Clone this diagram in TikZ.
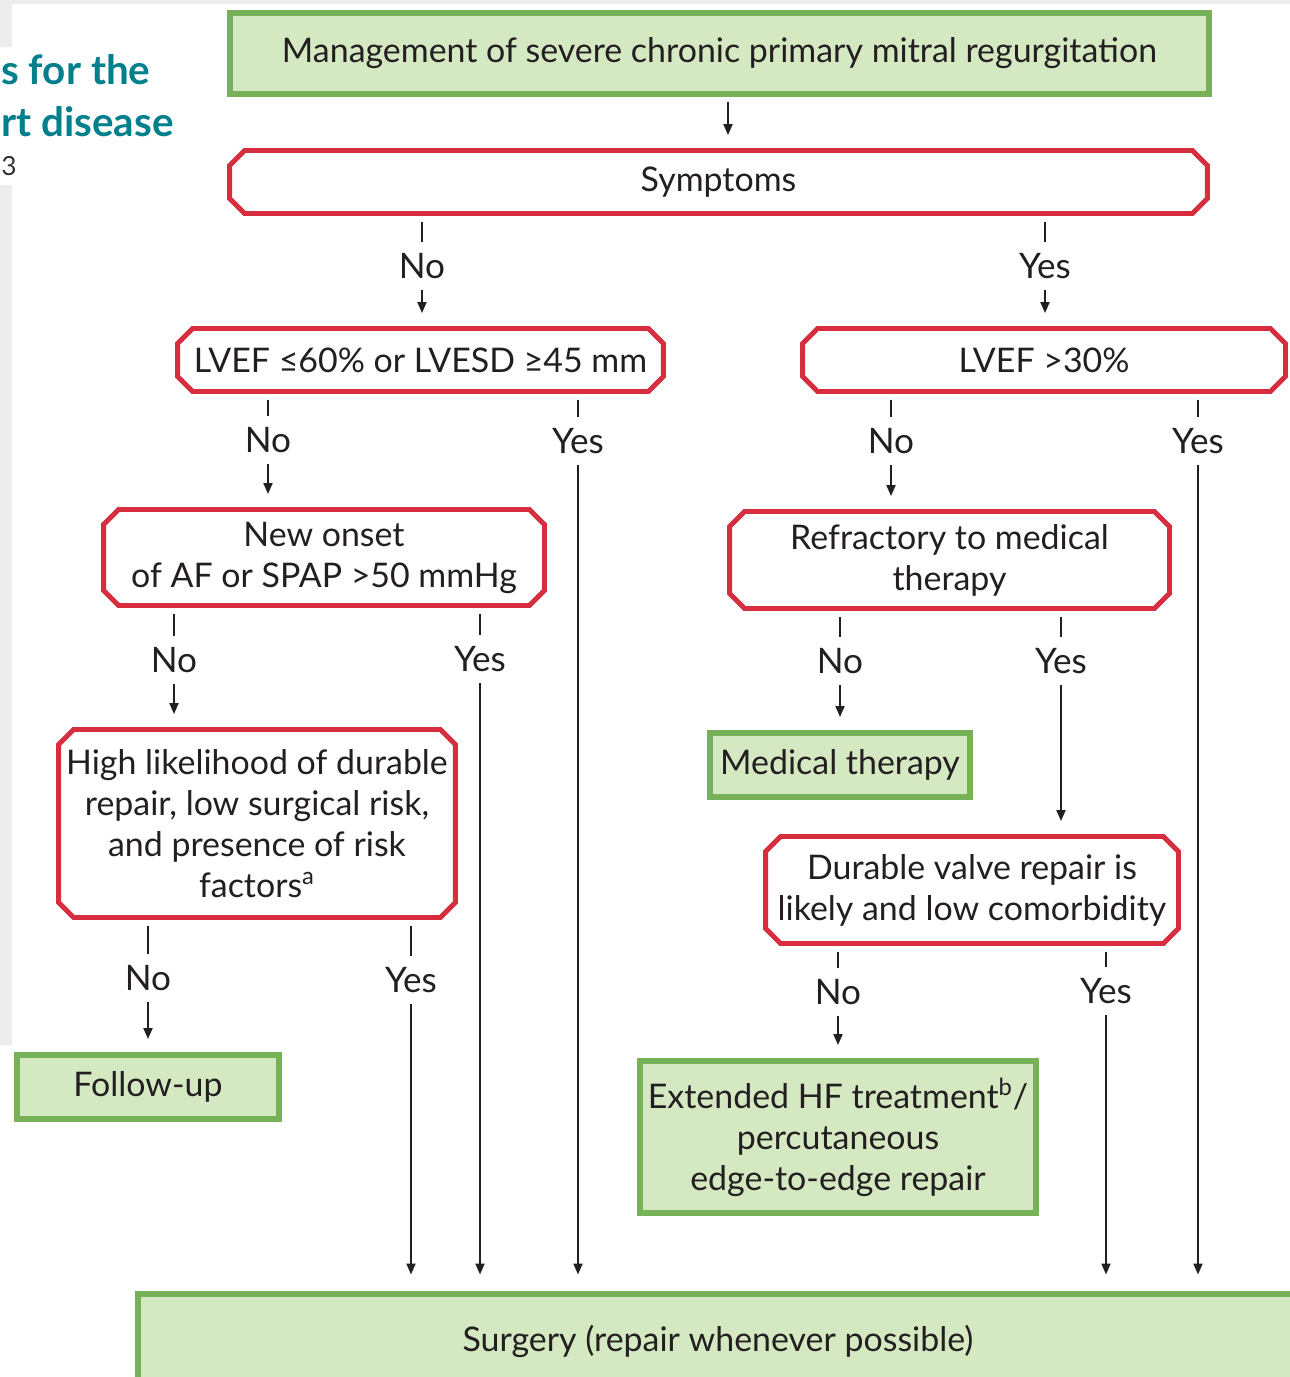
\documentclass[tikz,border=0pt]{standalone}
\usepackage{fontspec}
\setmainfont{Lato}
\usepackage{tikz}
\usetikzlibrary{arrows.meta,shapes.misc}
\definecolor{EscRed}{RGB}{214,46,62}
\definecolor{EscGreen}{RGB}{120,178,88}
\definecolor{EscFill}{RGB}{212,232,193}
\definecolor{EscTeal}{RGB}{0,128,140}
\definecolor{Ink}{RGB}{35,31,32}
\tikzset{
  dec/.style={chamfered rectangle,chamfered rectangle xsep=0.15cm,
              chamfered rectangle ysep=0.15cm,draw=EscRed,line width=2.8pt,
              fill=white,align=center,inner sep=0pt,text=Ink},
  act/.style={rectangle,draw=EscGreen,line width=3.4pt,fill=EscFill,
              align=center,inner sep=0pt,text=Ink},
  ans/.style={anchor=base,text=Ink,inner xsep=2pt,inner ysep=6.6pt,
              text height=13.5pt,text depth=0pt,font=\fontsize{20}{24}\selectfont},
  link/.style={line width=1.1pt,draw=Ink,shorten <=0.12cm},
  go/.style={line width=1.1pt,draw=Ink,-{Triangle[length=0.22cm,width=0.18cm]},
             shorten >=0.26cm},
  gosurg/.style={go,shorten >=0.32cm},
  hdr/.style={anchor=base west,inner sep=0pt,text=EscTeal,
              font=\fontsize{23}{23}\selectfont\bfseries},
}

\begin{document}
\begin{tikzpicture}[x=0.02cm,y=-0.02cm,font=\fontsize{19.3}{23.3}\selectfont]
  \useasboundingbox (0,0) rectangle (1290,1377);
  \clip (0,0) rectangle (1290,1377);
  \fill[gray!14] (0,0) rectangle (1290,4) (0,0) rectangle (12,47) (0,185) rectangle (12,1045);
  \node[hdr] (hdrA) at (1,84) {s for the};
  \node[hdr] (hdrB) at (1,136) {rt disease};
  \node[anchor=base west,inner sep=0pt,font=\fontsize{15}{15}\selectfont,text=black!80] (hdrC) at (1,175) {3};

  \node[act,minimum width=19.58cm,minimum height=1.62cm] (mgmt) at (719.5,53.5) {Management of severe chronic primary mitral regurgitation};
  \node[dec,minimum width=19.56cm,minimum height=1.26cm] (symp) at (718.5,182) {Symptoms};
  \node[dec,minimum width=9.72cm,minimum height=1.26cm] (lvefA) at (420.5,360) {LVEF ≤60\% or LVESD ≥45 mm};
  \node[dec,minimum width=9.66cm,minimum height=1.26cm] (lvefB) at (1044,360) {LVEF >30\%};
  \node[dec,minimum width=8.82cm,minimum height=1.92cm] (onset) at (324,557.5) {New onset\\of AF or SPAP >50 mmHg};
  \node[dec,minimum width=8.8cm,minimum height=1.94cm] (refr) at (949.5,560) {Refractory to medical\\therapy};
  \node[dec,minimum width=7.9cm,minimum height=3.76cm] (likely) at (257,823.5) {High likelihood of durable\\repair, low surgical risk,\\and presence of risk\\factors\textsuperscript{a}};
  \node[act,minimum width=5.2cm,minimum height=1.28cm] (medther) at (840,765) {Medical therapy};
  \node[dec,minimum width=8.26cm,minimum height=2.14cm] (durable) at (972,890) {Durable valve repair is\\likely and low comorbidity};
  \node[act,minimum width=5.24cm,minimum height=1.28cm] (followup) at (148,1087) {Follow-up};
  \node[act,minimum width=7.92cm,minimum height=3.04cm] (exthf) at (838,1137) {Extended HF treatment\textsuperscript{b}/\\percutaneous\\edge-to-edge repair};
  \node[act,minimum width=23.22cm,minimum height=1.9cm] (surgery) at (718,1341) {Surgery (repair whenever possible)};

  \node[ans] (sympNo) at (422,278) {No};
  \node[ans] (sympYes) at (1045,278) {Yes};
  \node[ans] (lvefANo) at (268,452) {No};
  \node[ans] (lvefAYes) at (578,453) {Yes};
  \node[ans] (lvefBNo) at (891,453) {No};
  \node[ans] (lvefBYes) at (1198,453) {Yes};
  \node[ans] (onsetNo) at (174,672) {No};
  \node[ans] (onsetYes) at (480,671) {Yes};
  \node[ans] (refrNo) at (840,673) {No};
  \node[ans] (refrYes) at (1061,673) {Yes};
  \node[ans] (likelyNo) at (148,990) {No};
  \node[ans] (likelyYes) at (411,992) {Yes};
  \node[ans] (durNo) at (838,1004) {No};
  \node[ans] (durYes) at (1106,1003) {Yes};

  \draw[go,shorten <=0.1cm] (mgmt.south -| 728,0) -- (symp.north -| 728,0);
  \foreach \src/\lbl/\dst in {symp/sympNo/lvefA,symp/sympYes/lvefB,
      lvefA/lvefANo/onset,lvefB/lvefBNo/refr,onset/onsetNo/likely,
      refr/refrNo/medther,refr/refrYes/durable,likely/likelyNo/followup,
      durable/durNo/exthf}{
    \draw[link] (\src.south -| \lbl) -- (\lbl.north);
    \draw[go] (\lbl.south) -- (\dst.north -| \lbl);
  }
  \foreach \src/\lbl in {lvefA/lvefAYes,lvefB/lvefBYes,onset/onsetYes,
      likely/likelyYes,durable/durYes}{
    \draw[link] (\src.south -| \lbl) -- (\lbl.north);
    \draw[gosurg] (\lbl.south) -- (surgery.north -| \lbl);
  }
\end{tikzpicture}
\end{document}
